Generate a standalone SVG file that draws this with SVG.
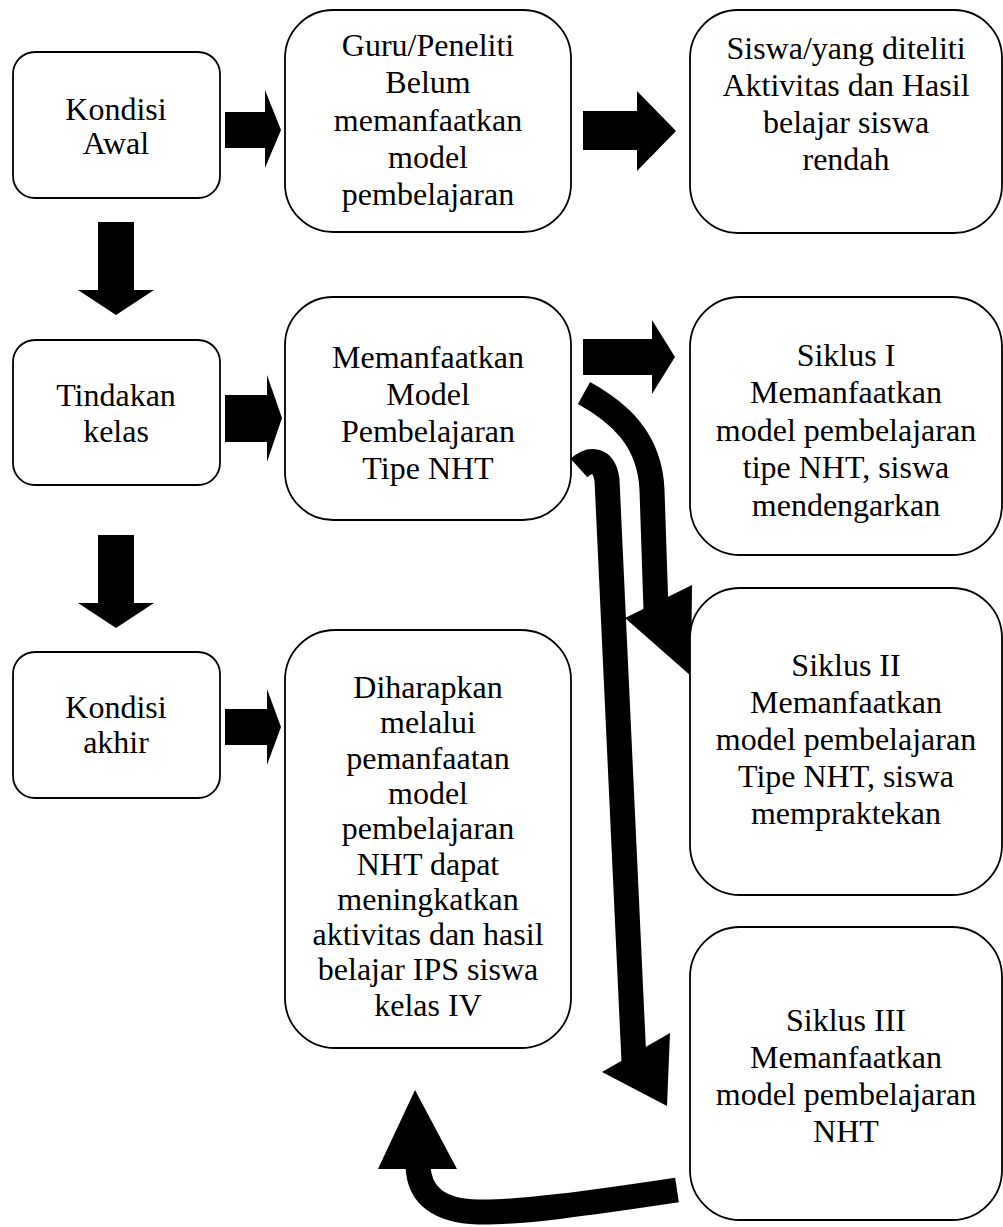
<svg xmlns="http://www.w3.org/2000/svg" width="1003" height="1227" viewBox="0 0 1003 1227">
<style>
.box{fill:#fff;stroke:#000;stroke-width:1.8}
.t{font-family:"Liberation Serif","Times New Roman",serif;font-size:32px;fill:#000;text-anchor:middle}
.band{fill:none;stroke:#000;stroke-width:25;stroke-linecap:butt}
.ah{fill:#000;stroke:none}
</style>
<rect width="1003" height="1227" fill="#fff"/>
<g id="connectors">
<polygon class="ah" points="225,112 265,112 265,90 281,130 265,168 265,148 225,148"/>
<polygon class="ah" points="583,111 637,111 637,91 676,131 637,171 637,150 583,150"/>
<polygon class="ah" points="98,222 134,222 134,290 154,290 116,315 78,290 98,290"/>
<polygon class="ah" points="98,535 134,535 134,603 154,603 116,628 78,603 98,603"/>
<polygon class="ah" points="225,395 267,395 267,375 282,418 267,462 267,442 225,442"/>
<polygon class="ah" points="583,339 652,339 652,320 675,357 652,394 652,375 583,375"/>
<polygon class="ah" points="225,709 267,709 267,689 281,727 267,765 267,745 225,745"/>
<path class="band" d="M584,393 C620,413 650,440 652,490 L656,610"/>
<polygon class="ah" points="625,618 692,585 691,676"/>
<path class="band" d="M579,468 C590,458 604,458 607,480 L634,1062"/>
<polygon class="ah" points="602,1072 670,1033 667,1106"/>
<path class="band" d="M677,1190 C590,1203 520,1213 478,1212 C440,1211 419,1196 418,1166"/>
<polygon class="ah" points="378,1169 415,1090 457,1169"/>
</g>
<g id="kondisi-awal"><rect class="box" x="13" y="52" width="207" height="146" rx="22"/>
<text class="t" x="116" y="120">Kondisi</text><text class="t" x="116" y="154">Awal</text></g>
<g id="guru"><rect class="box" x="285" y="10" width="286" height="222" rx="48"/>
<text class="t" x="428" y="56">Guru/Peneliti</text><text class="t" x="428" y="93">Belum</text><text class="t" x="428" y="131">memanfaatkan</text><text class="t" x="428" y="168">model</text><text class="t" x="428" y="205">pembelajaran</text></g>
<g id="siswa"><rect class="box" x="690" y="10" width="312" height="223" rx="48"/>
<text class="t" x="846" y="59">Siswa/yang diteliti</text><text class="t" x="846" y="96">Aktivitas dan Hasil</text><text class="t" x="846" y="133">belajar siswa</text><text class="t" x="846" y="170">rendah</text></g>
<g id="tindakan"><rect class="box" x="13" y="340" width="207" height="145" rx="22"/>
<text class="t" x="116" y="406">Tindakan</text><text class="t" x="116" y="442">kelas</text></g>
<g id="memanfaatkan"><rect class="box" x="285" y="297" width="286" height="223" rx="48"/>
<text class="t" x="428" y="368">Memanfaatkan</text><text class="t" x="428" y="405">Model</text><text class="t" x="428" y="442">Pembelajaran</text><text class="t" x="428" y="479">Tipe NHT</text></g>
<g id="siklus1"><rect class="box" x="690" y="297" width="312" height="258" rx="50"/>
<text class="t" x="846" y="366">Siklus I</text><text class="t" x="846" y="403">Memanfaatkan</text><text class="t" x="846" y="441">model pembelajaran</text><text class="t" x="846" y="478">tipe NHT, siswa</text><text class="t" x="846" y="516">mendengarkan</text></g>
<g id="kondisi-akhir"><rect class="box" x="13" y="652" width="207" height="146" rx="22"/>
<text class="t" x="116" y="718">Kondisi</text><text class="t" x="116" y="753">akhir</text></g>
<g id="diharapkan"><rect class="box" x="285" y="630" width="286" height="418" rx="50"/>
<text class="t" x="428" y="698">Diharapkan</text><text class="t" x="428" y="733">melalui</text><text class="t" x="428" y="769">pemanfaatan</text><text class="t" x="428" y="804">model</text><text class="t" x="428" y="839">pembelajaran</text><text class="t" x="428" y="875">NHT dapat</text><text class="t" x="428" y="910">meningkatkan</text><text class="t" x="428" y="945">aktivitas dan hasil</text><text class="t" x="428" y="980">belajar IPS siswa</text><text class="t" x="428" y="1016">kelas IV</text></g>
<g id="siklus2"><rect class="box" x="690" y="588" width="312" height="307" rx="50"/>
<text class="t" x="846" y="676">Siklus II</text><text class="t" x="846" y="713">Memanfaatkan</text><text class="t" x="846" y="750">model pembelajaran</text><text class="t" x="846" y="787">Tipe NHT, siswa</text><text class="t" x="846" y="824">mempraktekan</text></g>
<g id="siklus3"><rect class="box" x="690" y="927" width="312" height="293" rx="50"/>
<text class="t" x="846" y="1031">Siklus III</text><text class="t" x="846" y="1068">Memanfaatkan</text><text class="t" x="846" y="1105">model pembelajaran</text><text class="t" x="846" y="1142">NHT</text></g>
</svg>
